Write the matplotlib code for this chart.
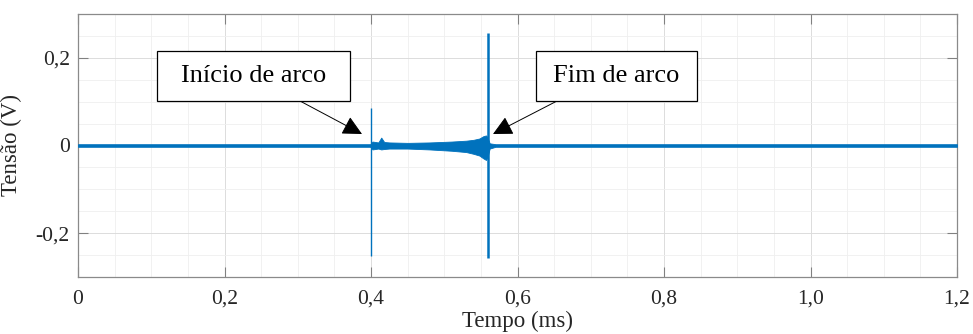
import matplotlib
matplotlib.use("Agg")
import matplotlib.pyplot as plt
from matplotlib.patches import Rectangle
from matplotlib.ticker import MultipleLocator

# ---- data ----
# noise envelope of the recorded voltage (ms, V)
t_env  = [0.0, 0.399, 0.402, 0.410, 0.414, 0.418, 0.425, 0.450, 0.480, 0.510, 0.530, 0.540, 0.548, 0.553, 0.557, 0.559, 0.562, 0.570, 1.2]
env_hi = [0.003, 0.003, 0.009, 0.007, 0.018, 0.008, 0.007, 0.006, 0.007, 0.009, 0.011, 0.013, 0.016, 0.021, 0.023, 0.019, 0.005, 0.003, 0.003]
env_lo = [-0.003, -0.003, -0.009, -0.007, -0.009, -0.008, -0.007, -0.007, -0.009, -0.012, -0.015, -0.019, -0.023, -0.029, -0.033, -0.027, -0.007, -0.003, -0.003]
# spikes at arc start and arc end
spike_t  = [0.40, 0.56]
spike_hi = [0.085, 0.256]
spike_lo = [-0.252, -0.256]
spike_lw = [1.0, 1.8]

xticks = [0, 0.2, 0.4, 0.6, 0.8, 1.0, 1.2]
xtick_labels = ["0", "0,2", "0,4", "0,6", "0,8", "1,0", "1,2"]
yticks = [-0.2, 0, 0.2]
ytick_labels = ["-0,2", "0", "0,2"]

plt.rcParams['font.family'] = ['Liberation Serif', 'DejaVu Serif']
W, H = 973, 334
fig = plt.figure(figsize=(W / 100, H / 100), dpi=100)
ax = fig.add_axes([78 / W, 1 - 277 / H, (957 - 78) / W, (277 - 14) / H])

blue = '#0072BD'
ax.fill_between(t_env, env_lo, env_hi, color=blue, lw=0.6, edgecolor=blue, zorder=3)
for t, hi, lo, lw in zip(spike_t, spike_hi, spike_lo, spike_lw):
    ax.plot([t, t], [lo, hi], color=blue, lw=lw, zorder=3, solid_capstyle='butt')

ax.set_xlim(0, 1.2)
ax.set_ylim(-0.3, 0.3)
ax.set_xticks(xticks)
ax.set_xticklabels(xtick_labels)
ax.set_yticks(yticks)
ax.set_yticklabels(ytick_labels)
ax.xaxis.set_minor_locator(MultipleLocator(0.05))
ax.yaxis.set_minor_locator(MultipleLocator(0.05))

axcol = '#262626'
ax.tick_params(which='major', direction='in', length=7, width=0.8, color='#808080',
               labelsize=15.5, labelcolor=axcol, top=True, right=True)
ax.tick_params(axis='x', which='major', pad=9)
ax.tick_params(axis='y', which='major', pad=6)
ax.tick_params(which='minor', length=0, top=True, right=True)
ax.grid(which='major', color='#dcdcdc', lw=0.7, zorder=0)
ax.grid(which='minor', color='#efefef', lw=0.6, zorder=0)
for s in ax.spines.values():
    s.set_color('#8a8a8a')
    s.set_linewidth(0.9)

ax.set_xlabel("Tempo (ms)", fontsize=16.5, color=axcol, labelpad=2)
ax.set_ylabel("Tensão (V)", fontsize=16.5, color=axcol)
ax.yaxis.set_label_coords((22 - 78) / (957 - 78), 0.5)

# annotation boxes (figure pixels, origin bottom-left)
def box(x0, y0top, x1, y1bot, text):
    r = Rectangle((x0 / W, 1 - y1bot / H), (x1 - x0) / W, (y1bot - y0top) / H,
                  transform=fig.transFigure, facecolor='white', edgecolor='black',
                  lw=0.9, zorder=10)
    fig.add_artist(r)
    fig.text((x0 + x1) / 2 / W, 1 - (y0top + y1bot) / 2 / H, text, fontsize=19,
             ha='center', va='center', color='black', zorder=11)

box(157, 51, 350, 101, "Início de arco")
box(536, 51, 697, 101, "Fim de arco")

def arrow(xs, ys, xt, yt):
    ax.annotate('', xy=(xt, H - yt), xycoords='figure pixels',
                xytext=(xs, H - ys), textcoords='figure pixels',
                arrowprops=dict(arrowstyle='-|>,head_length=0.8,head_width=0.4',
                                mutation_scale=15, color='black', lw=0.7,
                                shrinkA=0, shrinkB=0), zorder=12)

arrow(300, 101, 362, 134)
arrow(557, 101, 493, 134)

fig.savefig("out.png", dpi=100, facecolor='white')
